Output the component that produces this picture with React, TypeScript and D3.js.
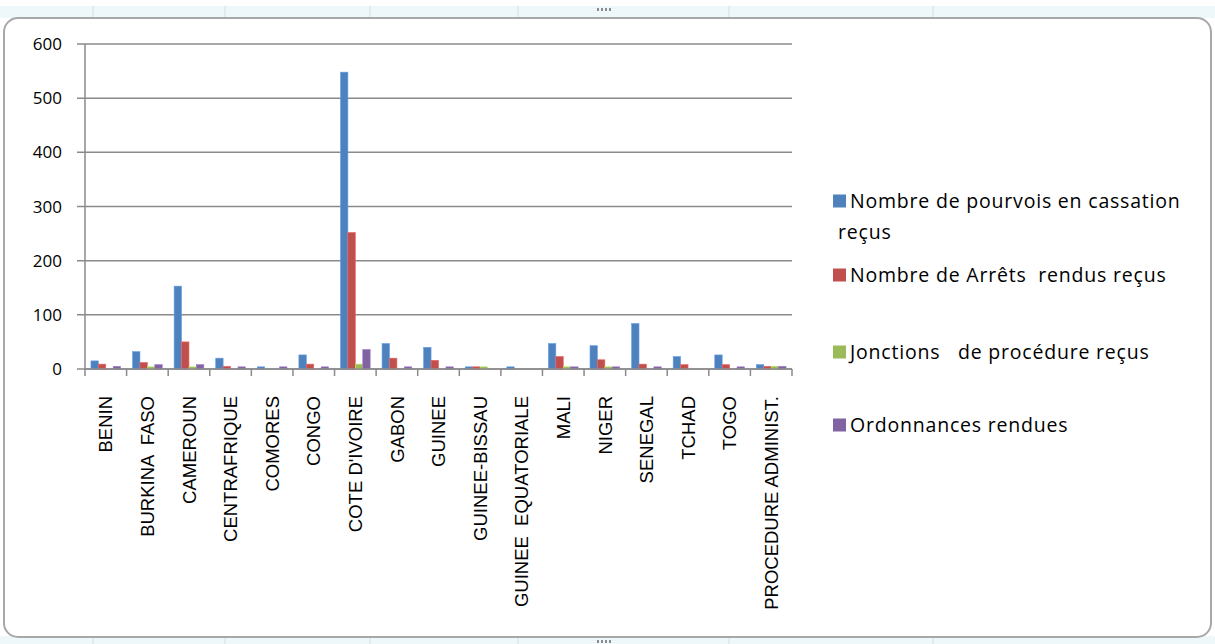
import React from "react";
import * as d3 from "d3";

const categories = [
  "BENIN",
  "BURKINA  FASO",
  "CAMEROUN",
  "CENTRAFRIQUE",
  "COMORES",
  "CONGO",
  "COTE D'IVOIRE",
  "GABON",
  "GUINEE",
  "GUINEE-BISSAU",
  "GUINEE  EQUATORIALE",
  "MALI",
  "NIGER",
  "SENEGAL",
  "TCHAD",
  "TOGO",
  "PROCEDURE ADMINIST.",
];

const pourvois = [15, 32, 153, 20, 4, 26, 548, 47, 40, 4, 4, 47, 43, 84, 23, 26, 8];
const arrets = [9, 12, 50, 5, 0, 9, 252, 20, 16, 4, 0, 23, 17, 9, 8, 8, 5];
const jonctions = [0, 4, 4, 0, 0, 0, 9, 0, 0, 4, 0, 4, 4, 0, 0, 0, 5];
const ordonnances = [5, 8, 8, 4, 4, 4, 36, 4, 4, 0, 0, 4, 4, 4, 0, 4, 5];

const seriesNames = [
  ["Nombre de pourvois en cassation", "reçus"],
  ["Nombre de Arrêts  rendus reçus"],
  ["Jonctions   de procédure reçus"],
  ["Ordonnances rendues"],
];
const seriesColors = ["#4F81BD", "#C0504D", "#9BBB59", "#8064A2"];
const seriesValues = [pourvois, arrets, jonctions, ordonnances];

const yTicks = [0, 100, 200, 300, 400, 500, 600];

const W = 1215;
const H = 644;
const plot = { left: 85, right: 792, top: 44, bottom: 369 };

export default function App() {
  const x0 = d3.scaleBand<string>().domain(categories).range([plot.left, plot.right]).paddingInner(0).paddingOuter(0);
  const x1 = d3
    .scaleBand<number>()
    .domain([0, 1, 2, 3])
    .range([0, x0.bandwidth()])
    .paddingInner(0)
    .paddingOuter(0.8);
  const y = d3.scaleLinear().domain([0, 600]).range([plot.bottom, plot.top]);

  const headerLines = [93, 225, 370, 518, 729, 933];
  const legendY = [201, 275, 352, 425];

  return (
    <svg
      width={W}
      height={H}
      style={{ position: "absolute", left: 0, top: 0, display: "block" }}
      xmlns="http://www.w3.org/2000/svg"
    >
      <rect x={0} y={0} width={W} height={H} fill="#ffffff" />
      {/* sheet strip above and below the chart frame */}
      <rect x={0} y={6} width={W} height={12} fill="#eef8fb" />
      <rect x={0} y={636} width={W} height={8} fill="#eef8fb" />
      {headerLines.map((hx) => (
        <g key={hx}>
          <line x1={hx} x2={hx} y1={6} y2={18} stroke="#d3dfe6" />
          <line x1={hx} x2={hx} y1={637} y2={644} stroke="#d3dfe6" />
        </g>
      ))}
      {[0, 1, 2, 3].map((i) => (
        <rect key={i} x={597 + i * 4} y={8} width={2} height={3} fill="#8c8c8c" />
      ))}
      {[0, 1, 2, 3].map((i) => (
        <rect key={"b" + i} x={597 + i * 4} y={640} width={2} height={3} fill="#8c8c8c" />
      ))}

      {/* chart frame */}
      <rect x={4} y={18} width={1207} height={619} rx={14} ry={14} fill="#ffffff" stroke="#a8a8a8" strokeWidth={2} />

      {/* gridlines and y ticks */}
      {yTicks.map((t) => (
        <g key={t}>
          <line x1={plot.left - 8} x2={plot.right} y1={y(t)} y2={y(t)} stroke="#8a8a8a" strokeWidth={1.5} />
          <text
            x={62}
            y={y(t)}
            dy="0.36em"
            textAnchor="end"
            fontFamily="'Open Sans', Lato, sans-serif"
            fontSize={17}
            fill="#000"
          >
            {t}
          </text>
        </g>
      ))}

      {/* bars */}
      {categories.map((c, ci) => (
        <g key={c} transform={`translate(${x0(c)},0)`}>
          {seriesValues.map((vals, si) =>
            vals[ci] > 0 ? (
              <rect
                key={si}
                x={x1(si)}
                y={y(vals[ci])}
                width={x1.bandwidth()}
                height={y(0) - y(vals[ci])}
                fill={seriesColors[si]}
                stroke={d3.color(seriesColors[si])!.brighter(0.6).formatHex()}
                strokeWidth={0.6}
              />
            ) : null
          )}
        </g>
      ))}

      {/* axes */}
      <line x1={plot.left} x2={plot.left} y1={plot.top} y2={plot.bottom} stroke="#8a8a8a" strokeWidth={1.5} />
      <line x1={plot.left} x2={plot.right} y1={plot.bottom} y2={plot.bottom} stroke="#8a8a8a" strokeWidth={1.5} />
      {categories.map((c) => (
        <line key={"t" + c} x1={x0(c)!} x2={x0(c)!} y1={plot.bottom} y2={plot.bottom + 7} stroke="#8a8a8a" strokeWidth={1.5} />
      ))}
      <line x1={plot.right} x2={plot.right} y1={plot.bottom} y2={plot.bottom + 7} stroke="#8a8a8a" strokeWidth={1.5} />

      {/* category labels */}
      {categories.map((c) => {
        const cx = x0(c)! + x0.bandwidth() / 2;
        return (
          <text
            key={"l" + c}
            transform={`translate(${cx},396) rotate(-90)`}
            textAnchor="end"
            dy="0.36em"
            fontFamily="'Liberation Sans', Arial, sans-serif"
            fontSize={18.5}
            fill="#000"
            style={{ whiteSpace: "pre" }}
          >
            {c}
          </text>
        );
      })}

      {/* legend */}
      {seriesNames.map((lines, i) => (
        <g key={"lg" + i}>
          <rect x={833} y={legendY[i] - 6.5} width={13} height={13} fill={seriesColors[i]} />
          {lines.map((ln, li) => (
            <text
              key={li}
              x={li === 0 ? 850 : 838}
              y={legendY[i] + li * 31}
              dy="0.36em"
              fontFamily="'Open Sans', Lato, sans-serif"
              fontSize={19.5}
              letterSpacing={0.8}
              fill="#000"
              style={{ whiteSpace: "pre" }}
            >
              {ln}
            </text>
          ))}
        </g>
      ))}
    </svg>
  );
}
